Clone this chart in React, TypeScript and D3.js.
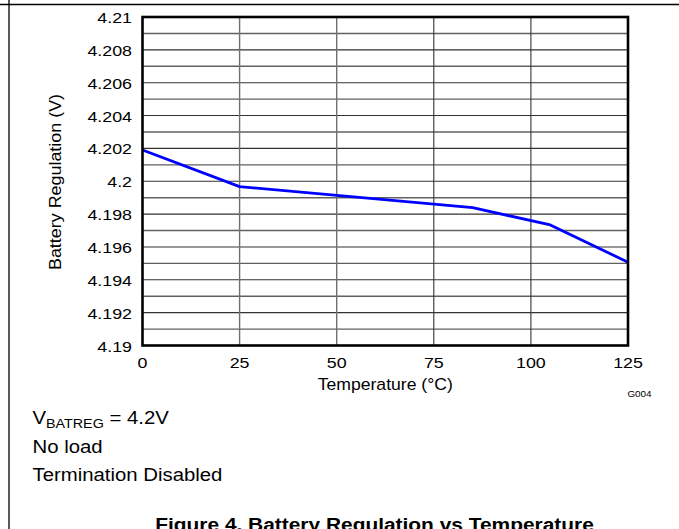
// Battery Regulation vs Temperature - D3 line chart (datasheet style)

import { useEffect, useRef } from "react";
import * as d3 from "d3";

const temperatures = [0, 25, 85, 105, 125];
const regulation = [4.2019, 4.19967, 4.19839, 4.19734, 4.19507];

const xTicks = [0, 25, 50, 75, 100, 125];
const yTicks = [4.19, 4.192, 4.194, 4.196, 4.198, 4.2, 4.202, 4.204, 4.206, 4.208, 4.21];
const yTickLabels = ["4.19", "4.192", "4.194", "4.196", "4.198", "4.2", "4.202", "4.204", "4.206", "4.208", "4.21"];

const notes = ["No load", "Termination Disabled"];

const W = 679;
const H = 529;
const FONT = "Liberation Sans, Arial, Helvetica, sans-serif";
const SX = 1.15; // the source text is a little wider than Arial

export default function App() {
  const svgRef = useRef<SVGSVGElement>(null);

  useEffect(() => {
    if (!svgRef.current) return;
    const svg = d3.select(svgRef.current);
    svg.selectAll("*").remove();

    const left = 142.5;
    const right = 628;
    const top = 17;
    const bottom = 345.5;

    const x = d3.scaleLinear().domain([0, 125]).range([left, right]);
    const y = d3.scaleLinear().domain([4.19, 4.21]).range([bottom, top]);

    // page frame lines
    svg.append("line").attr("x1", 0).attr("x2", W).attr("y1", 4.5).attr("y2", 4.5)
      .attr("stroke", "#000").attr("stroke-width", 1.3);
    svg.append("line").attr("x1", 9).attr("x2", 9).attr("y1", 0).attr("y2", H)
      .attr("stroke", "#000").attr("stroke-width", 1.3);

    // horizontal grid (every 0.001)
    const g = svg.append("g");
    g.selectAll(".hgrid")
      .data(y.ticks(20))
      .enter()
      .append("line")
      .attr("x1", left).attr("x2", right)
      .attr("y1", (d) => y(d)).attr("y2", (d) => y(d))
      .attr("stroke", (d, i) => (i % 2 === 0 ? "#333" : "#606060"))
      .attr("stroke-width", (d, i) => (i % 2 === 0 ? 1.1 : 1.4));

    // vertical grid
    g.selectAll(".vgrid")
      .data(xTicks.slice(1, -1))
      .enter()
      .append("line")
      .attr("x1", (d) => x(d)).attr("x2", (d) => x(d))
      .attr("y1", top).attr("y2", bottom)
      .attr("stroke", (d, i) => (i < 2 ? "#707070" : "#333"))
      .attr("stroke-width", (d, i) => (i < 2 ? 1.4 : 1.1));

    // data line
    const line = d3
      .line<number>()
      .x((d, i) => x(temperatures[i]))
      .y((d) => y(d));
    g.append("path")
      .datum(regulation)
      .attr("d", line)
      .attr("fill", "none")
      .attr("stroke", "#0000ff")
      .attr("stroke-width", 2.8)
      .attr("stroke-linejoin", "round");

    // plot frame
    g.append("rect")
      .attr("x", left).attr("y", top)
      .attr("width", right - left).attr("height", bottom - top)
      .attr("fill", "none").attr("stroke", "#000").attr("stroke-width", 2.6);

    const label = (tx: number, ty: number, text: string, size: number, anchor: string, weight = "normal", sx = SX) =>
      svg.append("text")
        .attr("transform", `translate(${tx},${ty}) scale(${sx},1)`)
        .attr("text-anchor", anchor)
        .attr("font-family", FONT)
        .attr("font-size", size)
        .attr("font-weight", weight)
        .attr("fill", "#000")
        .text(text);

    // y tick labels
    yTicks.forEach((v, i) => label(132, y(v) + 6, yTickLabels[i], 15.5, "end"));
    // x tick labels
    xTicks.forEach((v) => label(x(v), 368, String(v), 15.5, "middle"));

    // axis titles
    label((left + right) / 2, 390, "Temperature (°C)", 16, "middle", "normal", 1.1);
    svg.append("text")
      .attr("transform", `translate(61,182) rotate(-90) scale(1.12,1)`)
      .attr("text-anchor", "middle")
      .attr("font-family", FONT)
      .attr("font-size", 16)
      .attr("fill", "#000")
      .text("Battery Regulation (V)");

    label(639.5, 397, "G004", 9, "middle", "normal", 1.1);

    // conditions
    const cond = svg.append("text")
      .attr("transform", `translate(32.5,424) scale(1.1,1)`)
      .attr("font-family", FONT)
      .attr("font-size", 18.5)
      .attr("fill", "#000");
    cond.append("tspan").text("V");
    cond.append("tspan").attr("font-size", 13).attr("dy", 4).text("BATREG");
    cond.append("tspan").attr("dy", -4).text(" = 4.2V");

    notes.forEach((n, i) => label(32.5, 452.5 + i * 28.5, n, 18.5, "start", "normal", 1.1));

    // figure caption (cut by the lower edge, as in the source page)
    label(374.5, 530.5, "Figure 4. Battery Regulation vs Temperature", 19, "middle", "bold", 1.1);
  }, []);

  return (
    <svg
      ref={svgRef}
      width={W}
      height={H}
      style={{ position: "absolute", left: 0, top: 0, background: "#fff" }}
    />
  );
}
